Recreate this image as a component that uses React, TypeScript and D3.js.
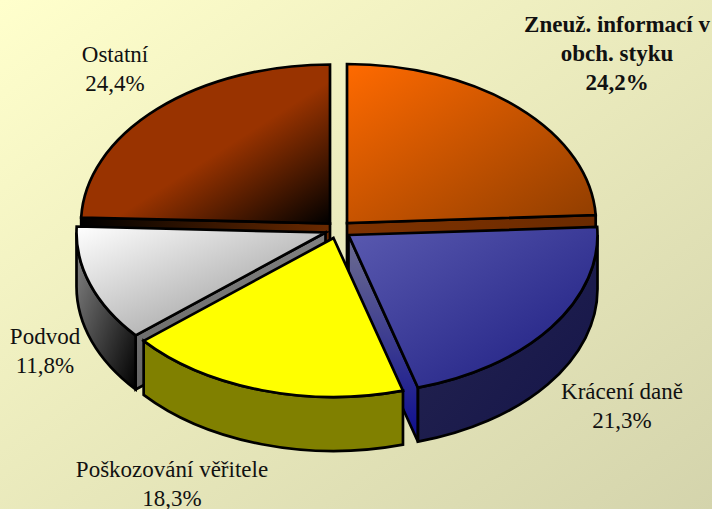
import React from "react";
import * as d3 from "d3";

const categories = ["Zneuž. informací v obch. styku", "Krácení daně", "Poškozování věřitele", "Podvod", "Ostatní"];
const values = [24.2, 21.3, 18.3, 11.8, 24.4];
const valueLabels = ["24,2%", "21,3%", "18,3%", "11,8%", "24,4%"];
const labelLines = [["Zneuž. informací v", "obch. styku"], ["Krácení daně"], ["Poškozování věřitele"], ["Podvod"], ["Ostatní"]];

const W = 712, H = 509;
const RX = 249, RY = 159, DEPTH = 54;
// slice apex positions after explosion
const apex: [number, number][] = [[347, 223], [348.5, 235], [333.5, 238], [325.5, 232.5], [330, 223.5]];
const drawOrder = [4, 0, 3, 1, 2];
const labelPos: [number, number][] = [[617, 32], [622, 399], [172, 477], [45, 344], [115, 62]];
const lineGap = 29;

type Stops = [string, string, string?];
const topFill: Stops[] = [
  ["#ff6a00", "#8f3d00"],
  ["#5a5ab0", "#1c1c80"],
  ["#ffff00", "#ffff00"],
  ["#ffffff", "#8c8c8c"],
  ["#993300", "#993300", "#000000"],
];
const wallFill: Stops[] = [
  ["#7f3300", "#7f3300"],
  ["#26264f", "#14144a"],
  ["#808000", "#808000"],
  ["#8a8a8a", "#000000"],
  ["#4c1900", "#4c1900"],
];
const faceFill: Stops[] = [
  ["#7f3300", "#6b2a00"],
  ["#6e6e90", "#0c0c90"],
  ["#808000", "#808000"],
  ["#808080", "#666666"],
  ["#000000", "#6b2a00"],
];
const faceDir = [[1, 0], [0, 1], [0, 1], [0, 1], [1, 0]];

const rScale = d3.scaleLinear().domain([0, 1]).range([0, 1]);
const pieGen = d3.pie<number>().sort(null).value((d) => d);
const arcs = pieGen(values);

function pt(i: number, ang: number, drop = 0): [number, number] {
  const [cx, cy] = apex[i];
  return [cx + rScale(RX) * Math.sin(ang), cy - RY * Math.cos(ang) + drop];
}
function topPath(i: number, a: number, b: number) {
  const p0 = pt(i, a), p1 = pt(i, b);
  const large = b - a > Math.PI ? 1 : 0;
  return `M${apex[i][0]},${apex[i][1]}L${p0[0]},${p0[1]}A${RX},${RY} 0 ${large} 1 ${p1[0]},${p1[1]}Z`;
}
function wallPath(i: number, a: number, b: number) {
  const s = Math.max(a, Math.PI / 2), e = Math.min(b, 1.5 * Math.PI);
  if (e <= s) return null;
  const p0 = pt(i, s), p1 = pt(i, e), q1 = pt(i, e, DEPTH), q0 = pt(i, s, DEPTH);
  return `M${p0[0]},${p0[1]}A${RX},${RY} 0 0 1 ${p1[0]},${p1[1]}L${q1[0]},${q1[1]}A${RX},${RY} 0 0 0 ${q0[0]},${q0[1]}Z`;
}
function facePath(i: number, ang: number) {
  const [cx, cy] = apex[i];
  const p = pt(i, ang), q = pt(i, ang, DEPTH);
  return `M${cx},${cy}L${p[0]},${p[1]}L${q[0]},${q[1]}L${cx},${cy + DEPTH}Z`;
}

function Grad({ id, c, dir = [1, 1] }: { id: string; c: Stops; dir?: number[] }) {
  return (
    <linearGradient id={id} x1="0" y1="0" x2={dir[0]} y2={dir[1]}>
      <stop offset="0" stopColor={c[0]} />
      {c[2] ? <stop offset="0.55" stopColor={c[1]} /> : null}
      <stop offset="1" stopColor={c[2] ?? c[1]} />
    </linearGradient>
  );
}

export default function App() {
  const stroke = { stroke: "#000", strokeWidth: 2.7, strokeLinejoin: "miter" as const };
  return (
    <svg width={W} height={H} viewBox={`0 0 ${W} ${H}`} style={{ position: "fixed", left: 0, top: 0, display: "block" }}>
      <defs>
        <linearGradient id="bg" x1="0" y1="0" x2="1" y2="1">
          <stop offset="0" stopColor="#ffffcc" />
          <stop offset="1" stopColor="#d4d4ac" />
        </linearGradient>
        {values.map((_, i) => (
          <React.Fragment key={i}>
            <Grad id={`top${i}`} c={topFill[i]} />
            <Grad id={`wall${i}`} c={wallFill[i]} />
            <Grad id={`face${i}`} c={faceFill[i]} dir={faceDir[i]} />
          </React.Fragment>
        ))}
      </defs>
      <rect width={W} height={H} fill="url(#bg)" />
      {drawOrder.map((i) => {
        const { startAngle: a, endAngle: b } = arcs[i];
        const wall = wallPath(i, a, b);
        return (
          <g key={categories[i]}>
            {Math.sin(b) > 1e-6 && <path d={facePath(i, b)} fill={`url(#face${i})`} {...stroke} />}
            {Math.sin(a) < -1e-6 && <path d={facePath(i, a)} fill={`url(#face${i})`} {...stroke} />}
            {wall && <path d={wall} fill={`url(#wall${i})`} {...stroke} />}
            <path d={topPath(i, a, b)} fill={`url(#top${i})`} {...stroke} />
          </g>
        );
      })}
      {values.map((_, i) => {
        const lines = [...labelLines[i], valueLabels[i]];
        return (
          <text key={i} x={labelPos[i][0]} y={labelPos[i][1]} textAnchor="middle"
            fontFamily="'Liberation Serif', serif" fontSize={23} fontWeight={i === 0 ? 700 : 400} fill="#111">
            {lines.map((l, k) => (
              <tspan key={k} x={labelPos[i][0]} y={labelPos[i][1] + k * lineGap}>{l}</tspan>
            ))}
          </text>
        );
      })}
    </svg>
  );
}
